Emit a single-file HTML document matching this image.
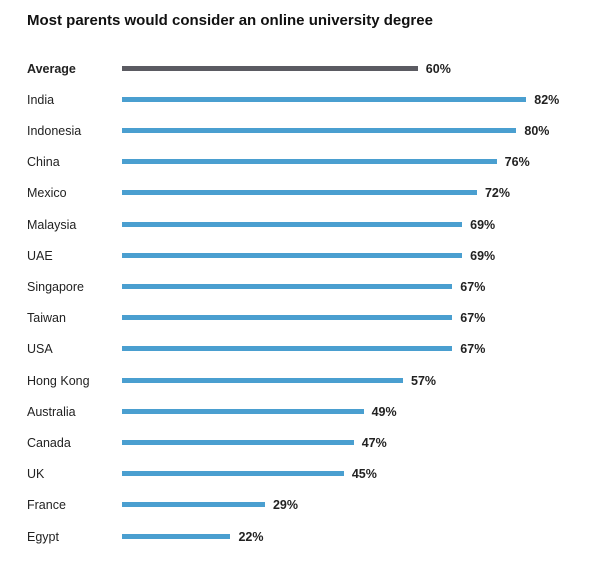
<!DOCTYPE html>
<html><head><meta charset="utf-8"><style>
body{margin:0;width:600px;height:570px;background:#fff;font-family:"Liberation Sans",Arial,sans-serif;position:relative;overflow:hidden}
.t{position:absolute;left:27px;top:12px;font-size:15px;font-weight:bold;color:#111}
.l{position:absolute;left:27px;font-size:12.5px;color:#222}
.b{position:absolute;left:122px;height:5px;background:#4a9fd0}
.v{position:absolute;font-size:12.5px;font-weight:bold;color:#222}
</style></head><body>
<div class="t">Most parents would consider an online university degree</div>
<div id="c"></div>
<script>
var d=[["Average",60],["India",82],["Indonesia",80],["China",76],["Mexico",72],["Malaysia",69],["UAE",69],["Singapore",67],["Taiwan",67],["USA",67],["Hong Kong",57],["Australia",49],["Canada",47],["UK",45],["France",29],["Egypt",22]];
var h="";
d.forEach(function(r,i){var y=68+i*31.2;var w=r[1]*4.93;
h+='<div class="l" style="top:'+(y-6.5)+'px;'+(i==0?'font-weight:bold;':'')+'">'+r[0]+'</div>';
h+='<div class="b" style="top:'+(y-2.5)+'px;width:'+w+'px;'+(i==0?'background:#5b5b62;':'')+'"></div>';
h+='<div class="v" style="top:'+(y-6.5)+'px;left:'+(122+w+8)+'px">'+r[1]+'%</div>';});
document.getElementById("c").innerHTML=h;
</script>
</body></html>
